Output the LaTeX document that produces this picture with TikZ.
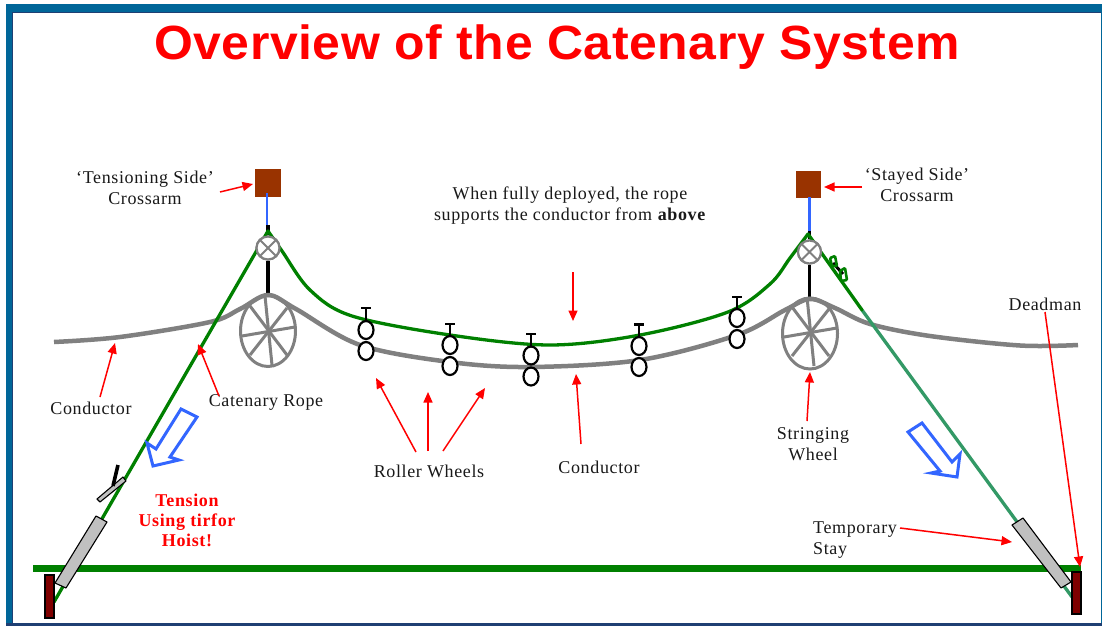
\documentclass[tikz,border=0pt]{standalone}
\usepackage{fontspec}
\setmainfont[LetterSpace=3.5]{Liberation Serif}
\newfontfamily\titlefont[FakeStretch=1.04,LetterSpace=1.2]{Liberation Sans}
\usetikzlibrary{shapes.geometric,arrows.meta}
\definecolor{bandblue}{HTML}{006699}
\definecolor{bandnavy}{HTML}{1F3F73}
\definecolor{ropegreen}{HTML}{008000}
\definecolor{staygreen}{HTML}{339966}
\definecolor{condgray}{HTML}{808080}
\definecolor{armbrown}{HTML}{993300}
\definecolor{deadred}{HTML}{7F0000}
\definecolor{hoistgray}{HTML}{C0C0C0}
\definecolor{bluearrow}{HTML}{3366FF}
\tikzset{
  lbl/.style={font=\fontsize{18}{21}\selectfont,align=center,inner sep=0pt,text=black!90},
  tensionlbl/.style={font=\fontsize{18}{20}\selectfont\bfseries,align=center,inner sep=0pt,text=red},
  redarrow/.style={draw=red,line width=1.5pt,-{Triangle[length=10.5pt,width=9pt]}},
  rope/.style={draw=ropegreen,line width=3.3pt,line cap=round,line join=round},
  conductor/.style={draw=condgray,line width=4.5pt,line join=round},
  wheelrim/.style={shape=ellipse,draw=condgray,line width=3pt,inner sep=0pt,minimum width=55pt,minimum height=71pt,fill=white},
  spoke/.style={draw=condgray,line width=3pt},
  pulley/.style={shape=circle,draw=condgray,line width=2.2pt,fill=white,inner sep=0pt,minimum size=23pt},
  roller/.style={shape=ellipse,draw=black,line width=2.2pt,fill=white,inner sep=0pt,minimum width=15pt,minimum height=18pt},
  arm/.style={rectangle,fill=armbrown,inner sep=0pt,minimum width=25.5pt,minimum height=27.5pt},
  post/.style={draw=black,line width=3.2pt},
  hanger/.style={draw=bluearrow,line width=2.4pt},
  hoist/.style={draw=black,line width=1.1pt,fill=hoistgray,line join=round},
  deadman/.style={rectangle,draw=black,line width=1.1pt,fill=deadred,inner sep=0pt,minimum width=9pt},
  bigarrow/.style={draw=bluearrow,line width=3pt,fill=white,line join=miter},
}
\newcommand{\wheelspokes}[1]{%
  \draw[spoke] (#1) ++(-3,-36) -- ++(7,69);
  \draw[spoke] (#1) ++(-26,4) -- ++(53,-9);
  \draw[spoke] (#1) ++(-18,-26) -- ++(37,49);
  \draw[spoke] (#1) ++(19,-24) -- ++(-37,47);
}
\newcommand{\rollerpair}[5]{% name, x, bar y, upper y, lower y
  \draw[black,line width=1.8pt] (#2,#3) -- (#2,#4);
  \draw[black,line width=2.2pt] (#2-5,#3) -- (#2+5,#3);
  \node[roller] (#1a) at (#2,#4) {};
  \node[roller] (#1b) at (#2,#5) {};
}
\begin{document}
\begin{tikzpicture}[x=1pt,y=-1pt]
\useasboundingbox (0,0) rectangle (1102,626);
% frame
\fill[white] (0,0) rectangle (1102,626);
\fill[bandblue] (6,4) rectangle (1102,626);
\fill[bandnavy] (6,622.5) rectangle (1102,626);
\fill[white] (12,13) rectangle (1100.5,622.5);
\draw[bandnavy,line width=1pt] (12,622.5) -- (12,13) -- (1100.5,13);
% title
\node[inner sep=0pt,text=red,font=\fontsize{48}{50}\titlefont\bfseries] (title) at (557,47.5) {Overview of the Catenary System};
% ground
\fill[ropegreen] (33,565) rectangle (1081,572);
% crossarms and hangers
\node[arm] (armL) at (268,183) {};
\node[arm] (armR) at (808.5,184.5) {};
\node[pulley] (pulL) at (268,248) {};
\node[pulley] (pulR) at (809.5,252) {};
\coordinate (hubL) at (268,332);
\coordinate (hubR) at (810,333);
\draw[post] (268,225) -- (pulL.north);
\draw[post] (809.5,230) -- (pulR.north);
\draw[hanger] (267,193) -- (267,225);
\draw[hanger] (809.5,197) -- (809.5,231);
\draw[post] (pulL.south) -- (268,296);
\draw[post] (pulR.south) -- (809.5,299);
% conductor
\draw[conductor] plot[smooth,tension=0.55] coordinates {(54,342) (120,337) (210,322) (240,309) (268,295) (296,309) (360,345) (450,362) (530,367) (640,360) (737,335) (785,310) (810,299) (835,308) (870,324) (930,336) (1020,345.5) (1078,345)};
% wheels
\node[wheelrim,fill=none] (wheelL) at (268,331) {};
\node[wheelrim,fill=none] (wheelR) at (810,333.5) {};
\wheelspokes{hubL}
\wheelspokes{hubR}
% ropes
\coordinate (apexL) at (268,231);
\coordinate (apexR) at (808,234);
\coordinate (anchorL) at (54,602);
\coordinate (anchorR) at (1072,597);
\coordinate (splice) at (862,310);
\draw[draw=staygreen,line width=3.3pt] (splice) -- (anchorR);
\draw[rope] (anchorL) -- (apexL);
\draw[rope] (apexR) -- (splice);
\draw[rope] plot[smooth,tension=0.55] coordinates {(268,231) (282,251) (310,290) (352,316) (450,335) (550,345) (640,335) (728,312) (770,284) (790,258) (808,234)};
\node[pulley] at (pulL) {};
\node[pulley] at (pulR) {};
\draw[condgray,line width=1.8pt] (260,240) -- (276,256) (276,240) -- (260,256);
\draw[condgray,line width=1.8pt] (801.5,244) -- (817.5,260) (817.5,244) -- (801.5,260);
% green clips on the stayed rope
\draw[black,line width=3pt] (833,263) -- (843,274);
\draw[ropegreen,line width=2.6pt,rounded corners=1pt] (830,258) -- (835,256) -- (837,266) -- (832,266) -- cycle;
\draw[ropegreen,line width=2.6pt,rounded corners=1pt] (840,271) -- (845,268) -- (847,280) -- (841,281) -- cycle;
% rollers
\rollerpair{rA}{366}{308}{330}{351}
\rollerpair{rB}{450}{324}{345}{366}
\rollerpair{rC}{531}{334}{355.5}{376.5}
\rollerpair{rD}{639}{324.5}{346}{367}
\rollerpair{rE}{737}{297}{318}{339}
% tirfor and stays
\draw[hoist] (97,499) -- (100,502) -- (126,481) -- (123,477) -- cycle;
\draw[black,line width=3.6pt] (118,465) -- (113,486);
\node[deadman,minimum height=43pt] (deadL) at (49.5,596.5) {};
\node[deadman,minimum height=42pt] (deadR) at (1076.5,593) {};
\draw[hoist] (96,516) -- (107,522) -- (66,588) -- (55,583) -- cycle;
\draw[hoist] (1012,525) -- (1023,518) -- (1071,582) -- (1061,588) -- cycle;
% blue direction arrows
\draw[bigarrow] (181,409) -- (197,417) -- (170,457) -- (179,460) -- (153,466) -- (147,443) -- (156,449) -- cycle;
\draw[bigarrow] (922,423) -- (908,432) -- (940,471) -- (931,473) -- (957,477) -- (960,454) -- (952,462) -- cycle;
% labels
\node[lbl] (lTens) at (145,187.5) {‘Tensioning Side’\\Crossarm};
\node[lbl] (lStay) at (917,184.5) {‘Stayed Side’\\Crossarm};
\node[lbl] (lDeploy) at (570,205.5) {When fully deployed, the rope\\supports the conductor from \textbf{above}};
\node[lbl] (lCondL) at (91,408) {Conductor};
\node[lbl] (lCat) at (266,402) {Catenary Rope};
\node[lbl] (lRoll) at (429,471) {Roller Wheels};
\node[lbl] (lCondM) at (599,467) {Conductor};
\node[lbl] (lString) at (813,444) {Stringing\\Wheel};
\node[lbl] (lDead) at (1045,304) {Deadman};
\node[lbl,align=left,anchor=west] (lTemp) at (813,540) {Temporary\\Stay};
\node[tensionlbl] (lTension) at (187,520) {Tension\\Using tirfor\\Hoist!};
% red arrows
\coordinate (tCondL) at (115,343);
\coordinate (tCat) at (198,344);
\coordinate (tCenter) at (573,321);
\coordinate (sCenter) at (573,272);
\coordinate (tR1) at (376,378);
\coordinate (tR2) at (428,392);
\coordinate (tR3) at (485,388);
\coordinate (tCondM) at (576,374);
\coordinate (tString) at (810,372);
\coordinate (tDead) at (1080,567);
\coordinate (tTemp) at (1012,542);
\coordinate (sTens) at (220,192);
\coordinate (sStay) at (862,187);
\coordinate (tStay) at (824,187);
\coordinate (tTens) at (253,184);
\coordinate (sCondL) at (100,397);
\coordinate (sCat) at (219,396);
\coordinate (sR1) at (416,452);
\coordinate (sR2) at (428,451);
\coordinate (sR3) at (443,451);
\coordinate (sCondM) at (581,444);
\coordinate (sString) at (807,421);
\coordinate (sDead) at (1045,312);
\coordinate (sTemp) at (900,528);
\draw[redarrow] (sTens) -- (tTens);
\draw[redarrow] (sStay) -- (tStay);
\draw[redarrow] (sCondL) -- (tCondL);
\draw[redarrow] (sCat) -- (tCat);
\draw[redarrow] (sCenter) -- (tCenter);
\draw[redarrow] (sR1) -- (tR1);
\draw[redarrow] (sR2) -- (tR2);
\draw[redarrow] (sR3) -- (tR3);
\draw[redarrow] (sCondM) -- (tCondM);
\draw[redarrow] (sString) -- (tString);
\draw[redarrow] (sDead) -- (tDead);
\draw[redarrow] (sTemp) -- (tTemp);
\end{tikzpicture}
\end{document}
